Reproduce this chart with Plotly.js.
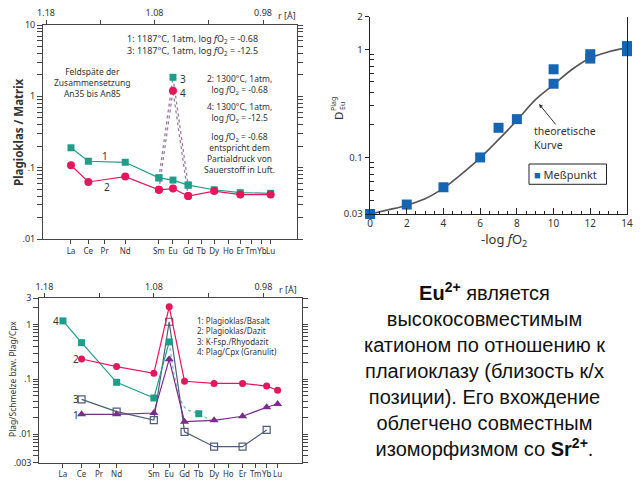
<!DOCTYPE html>
<html><head><meta charset="utf-8">
<script src="https://cdn.plot.ly/plotly-3.0.1.min.js"></script>
<style>body{margin:0;background:#fff}#c{width:640px;height:480px}</style>
</head><body><div id="c"></div>
<script>
// ---------- data ----------
const elems = ['La','Ce','Pr','Nd','Sm','Eu','Gd','Tb','Dy','Ho','Er','Tm','Yb','Lu'];
// ionic radius positions (Å) as plotted on the two REE charts
const rTop = [1.157,1.141,1.126,1.107,1.076,1.063,1.049,1.037,1.025,1.012,1.001,0.991,0.981,0.973];
const rBot = [1.163,1.146,1.130,1.114,1.080,1.066,1.052,1.039,1.025,1.012,0.999,0.987,0.977,0.967];
const rTicks = [1.18,1.13,1.08,1.03,0.98];
const rTickText = ['1.18','','1.08','','0.98'];

// top-left: Plagioklas / Matrix
const tl1 = [0.19,0.123,null,0.119,0.072,0.067,0.057,null,0.049,null,0.0446,null,null,0.0437];
const tl2 = [0.108,0.063,null,0.075,0.049,0.051,0.040,null,0.047,null,0.042,null,null,0.042];
const tl3 = [null,null,null,null,0.072,1.85,0.057,null,null,null,null,null,null,null];
const tl4 = [null,null,null,null,0.049,1.2,0.040,null,null,null,null,null,null,null];

// top-right: D_Eu vs -log fO2
const mpX = [0,2,4,6,7,8,10,10,12,12,14,14];
const mpY = [0.030,0.0367,0.053,0.100,0.188,0.226,0.653,0.48,0.90,0.82,1.07,0.96];
const curveX = [0,1,2,3,4,5,6,7,8,9,10,11,12,13,14];
const curveY = [0.030,0.0328,0.0362,0.0415,0.052,0.0706,0.099,0.146,0.22,0.34,0.47,0.65,0.83,0.95,1.03];

// bottom-left: Plag/Schmelze bzw. Plag/Cpx
const b1 = [null,0.0229,null,0.0229,0.0242,0.231,0.0168,null,0.0178,null,0.0211,null,0.0308,0.0353];
const b2 = [null,0.234,null,0.17,0.128,2.1,0.092,null,0.084,null,0.084,null,0.075,0.063];
const b3 = [null,0.043,null,0.0256,0.018,1.12,0.011,null,0.00588,null,0.00588,null,0.0119,null];
const b4 = [1.16,0.465,null,0.088,0.0455,0.48,null,null,null,null,null,null,null,null];
const b4dot = [null,null,null,null,null,0.48,0.031,0.0235,0.0165,null,null,null,null,null];
const b4dotMarker = [null,null,null,null,null,null,null,0.0235,null,null,null,null,null,null];

// ---------- styles ----------
const TEAL='#1f9d8a', PINK='#e3175b', PURP='#7b2c8a', SLATE='#4f5d78', BLUE='#1565b3', DOT='#9a7ca6';
const AX='#444', TXT='#333', F='Noto Sans';
const px = x => x/640, py = y => 1 - y/480;

function dec(lo,hi){const a=[];for(let e=lo;e<=hi;e++)for(let m=2;m<=9;m++)a.push(m*Math.pow(10,e));return a;}

const traces = [
  // top-left
  {x:rTop,y:tl3,xaxis:'x',yaxis:'y',mode:'lines+markers',connectgaps:false,line:{color:DOT,width:1.3,dash:'dot'},marker:{symbol:'square',size:7,color:TEAL},cliponaxis:false},
  {x:rTop,y:tl4,xaxis:'x',yaxis:'y',mode:'lines+markers',connectgaps:false,line:{color:DOT,width:1.3,dash:'dot'},marker:{symbol:'circle',size:8,color:PINK},cliponaxis:false},
  {x:rTop,y:tl1,xaxis:'x',yaxis:'y',mode:'lines+markers',connectgaps:true,line:{color:TEAL,width:1.2},marker:{symbol:'square',size:7,color:TEAL},cliponaxis:false},
  {x:rTop,y:tl2,xaxis:'x',yaxis:'y',mode:'lines+markers',connectgaps:true,line:{color:PINK,width:1.2},marker:{symbol:'circle',size:8,color:PINK},cliponaxis:false},
  {x:[1.1],y:[null],xaxis:'x4',yaxis:'y',mode:'markers',opacity:0,hoverinfo:'skip'},
  // top-right
  {x:curveX,y:curveY,xaxis:'x2',yaxis:'y2',mode:'lines',line:{color:'#555',width:1.6,shape:'spline'}},
  {x:mpX,y:mpY,xaxis:'x2',yaxis:'y2',mode:'markers',marker:{symbol:'square',size:10,color:BLUE},cliponaxis:false},
  // bottom-left
  {x:rBot,y:b4dot,xaxis:'x3',yaxis:'y3',mode:'lines',connectgaps:true,line:{color:'#6fb8c8',width:1.2,dash:'dot',shape:'spline'}},
  {x:rBot,y:b4dotMarker,xaxis:'x3',yaxis:'y3',mode:'markers',marker:{symbol:'square',size:7,color:TEAL}},
  {x:rBot,y:b3,xaxis:'x3',yaxis:'y3',mode:'lines+markers',connectgaps:true,line:{color:SLATE,width:1.2},marker:{symbol:'square-open',size:7,color:SLATE,line:{width:1.2}},cliponaxis:false},
  {x:rBot,y:b1,xaxis:'x3',yaxis:'y3',mode:'lines+markers',connectgaps:true,line:{color:PURP,width:1.2},marker:{symbol:'triangle-up',size:8,color:PURP},cliponaxis:false},
  {x:rBot,y:b4,xaxis:'x3',yaxis:'y3',mode:'lines+markers',connectgaps:true,line:{color:TEAL,width:1.2},marker:{symbol:'square',size:7,color:TEAL},cliponaxis:false},
  {x:rBot,y:b2,xaxis:'x3',yaxis:'y3',mode:'lines+markers',connectgaps:true,line:{color:PINK,width:1.2},marker:{symbol:'circle',size:7,color:PINK},cliponaxis:false},
  {x:[1.1],y:[null],xaxis:'x5',yaxis:'y3',mode:'markers',opacity:0,hoverinfo:'skip'}
];

const baseX = {showgrid:false,zeroline:false,showline:true,linecolor:AX,linewidth:1,ticks:'outside',ticklen:4,tickcolor:AX,tickangle:0,tickfont:{family:F,size:8,color:TXT},tickmode:'array'};
const baseY = {type:'log',showgrid:false,zeroline:false,showline:true,linecolor:AX,linewidth:1,ticks:'outside',ticklen:5,tickcolor:AX,tickfont:{family:F,size:9,color:TXT},tickmode:'array'};

const ann = [];
function A(x,y,t,o){ann.push(Object.assign({xref:'paper',yref:'paper',x:px(x),y:py(y),xanchor:'center',yanchor:'middle',align:'center',text:t,showarrow:false,font:{family:F,size:8.5,color:TXT}},o||{}));}
const fo = 'log <i>f</i>O<sub>2</sub>';
const fb = {font:{family:F,size:8.5,color:TXT}};
// top-left texts
A(192,45.5,'1: 1187°C, 1atm, '+fo+' = -0.68<br>3: 1187°C, 1atm, '+fo+' = -12.5',{font:{family:F,size:9,color:TXT}});
A(92,82.7,'Feldspäte der<br>Zusammensetzung<br>An35 bis An85',fb);
A(239,84.5,'2: 1300°C, 1atm,<br>'+fo+' = -0.68',fb);
A(239,112.5,'4: 1300°C, 1atm,<br>'+fo+' = -12.5',fb);
A(239,153,fo+' = -0.68<br>entspricht dem<br>Partialdruck von<br>Sauerstoff in Luft.',fb);
A(105,156,'1',{font:{family:F,size:10,color:TXT}});
A(107,187,'2',{font:{family:F,size:10,color:TXT}});
A(183,79,'3',{font:{family:F,size:10,color:TXT}});
A(183,93,'4',{font:{family:F,size:10,color:TXT}});
A(287,15,'r [Å]',{font:{family:F,size:9,color:TXT}});
A(18,132,'<b>Plagioklas / Matrix</b>',{textangle:-90,font:{family:F,size:11.5,color:TXT}});
// top-right texts
A(338,116,'D',{textangle:-90,font:{family:F,size:11.5,color:TXT}});
A(333,104,'Plag',{textangle:-90,font:{family:F,size:7,color:TXT}});
A(342,106,'Eu',{textangle:-90,font:{family:F,size:7,color:TXT}});
A(504,240,'-log <i>f</i>O<sub>2</sub>',{font:{family:F,size:13,color:TXT}});
A(532,138,'theoretische<br>Kurve',{xanchor:'left',align:'left',font:{family:F,size:10.5,color:TXT}});
ann.push({xref:'paper',yref:'paper',x:px(539),y:py(104),ax:18,ay:22,text:'',showarrow:true,arrowhead:2,arrowsize:0.8,arrowwidth:1,arrowcolor:'#333'});
A(532,174,'<span style="color:'+BLUE+'">■</span> Meßpunkt',{xanchor:'left',font:{family:F,size:11,color:TXT}});
// bottom-left texts
A(195,336,'1: Plagioklas/Basalt<br>2: Plagioklas/Dazit<br>3: K-Fsp./Rhyodazit<br>4: Plag/Cpx (Granulit)',{xanchor:'left',align:'left',font:{family:F,size:8,color:TXT}});
A(56,321,'4',{font:{family:F,size:10,color:TXT}});
A(76,359,'2',{font:{family:F,size:10,color:TXT}});
A(76,399,'3',{font:{family:F,size:10,color:TXT}});
A(76,415,'1',{font:{family:F,size:10,color:TXT}});
A(288,289,'r [Å]',{font:{family:F,size:9,color:TXT}});
A(12,379,'Plag/Schmelze bzw. Plag/Cpx',{textangle:-90,font:{family:F,size:8.5,color:TXT}});
// right text block
ann.push({xref:'paper',yref:'paper',x:px(484),y:py(369),xanchor:'center',yanchor:'middle',align:'center',showarrow:false,
  font:{family:'Liberation Sans, Arial, sans-serif',size:20,color:'#111'},
  text:'<b>Eu<sup>2+</sup></b> является<br>высокосовместимым<br>катионом по отношению к<br>плагиоклазу (близость к/х<br>позиции). Его вхождение<br>облегчено совместным<br>изоморфизмом со <b>Sr<sup>2+</sup></b>.'});

const layout = {
  width:640,height:480,margin:{l:0,r:0,t:0,b:0},paper_bgcolor:'#fff',plot_bgcolor:'#fff',showlegend:false,
  xaxis:Object.assign({},baseX,{domain:[px(43),px(297)],anchor:'y',range:[1.1828,0.9487],tickvals:rTop,ticktext:elems}),
  yaxis:Object.assign({},baseY,{domain:[py(239),py(25)],anchor:'x',range:[-2,1],tickvals:[0.01,0.1,1,10],ticktext:['.01','.1','1','10'],mirror:'allticks',
    minor:{tickmode:'array',tickvals:dec(-2,0),ticks:'outside',ticklen:3,tickcolor:AX}}),
  xaxis4:Object.assign({},baseX,{overlaying:'x',side:'top',anchor:'y',range:[1.1828,0.9487],tickvals:rTicks,ticktext:rTickText,tickfont:{family:F,size:9,color:TXT}}),
  xaxis2:Object.assign({},baseX,{domain:[px(369.5),px(627)],anchor:'y2',range:[-0.03,14.0],tickvals:[0,2,4,6,8,10,12,14],ticktext:['0','2','4','6','8','10','12','14'],
    ticks:'inside',ticklen:6,linecolor:'#222',tickcolor:'#222',tickfont:{family:F,size:10,color:TXT},minor:{dtick:0.5,tick0:0,ticks:'inside',ticklen:3,tickcolor:'#222'}}),
  yaxis2:Object.assign({},baseY,{domain:[py(214),py(16.7)],anchor:'x2',range:[Math.log10(0.03),Math.log10(2)],tickvals:[0.03,0.1,1,2],ticktext:['0.03','0.1','1','2'],
    mirror:true,linecolor:'#222',tickcolor:'#222',ticklen:4,tickfont:{family:F,size:9.5,color:TXT},
    minor:{tickmode:'array',tickvals:[0.04,0.05,0.06,0.07,0.08,0.09,0.2,0.3,0.4,0.5,0.6,0.7,0.8,0.9],ticks:'inside',ticklen:4,tickcolor:'#222'}}),
  xaxis3:Object.assign({},baseX,{domain:[px(39.3),px(301.7)],anchor:'y3',range:[1.1846,0.945],tickvals:rBot,ticktext:elems}),
  yaxis3:Object.assign({},baseY,{domain:[py(462.7),py(298.3)],anchor:'x3',range:[Math.log10(0.003),Math.log10(3)],tickvals:[0.003,0.01,0.1,1,3],ticktext:['.003','.01','.1','1','3'],mirror:'allticks',
    minor:{tickmode:'array',tickvals:[0.004,0.005,0.006,0.007,0.008,0.009].concat(dec(-2,-1)).concat([2]),ticks:'outside',ticklen:3,tickcolor:AX}}),
  xaxis5:Object.assign({},baseX,{overlaying:'x3',side:'top',anchor:'y3',range:[1.1846,0.945],tickvals:rTicks,ticktext:rTickText,tickfont:{family:F,size:9,color:TXT}}),
  shapes:[{type:'rect',xref:'paper',yref:'paper',x0:px(529),x1:px(606.5),y0:py(184.3),y1:py(164),line:{color:'#222',width:1},fillcolor:'rgba(0,0,0,0)'}],
  annotations:ann
};
Plotly.newPlot('c',traces,layout,{staticPlot:true});
</script></body></html>
